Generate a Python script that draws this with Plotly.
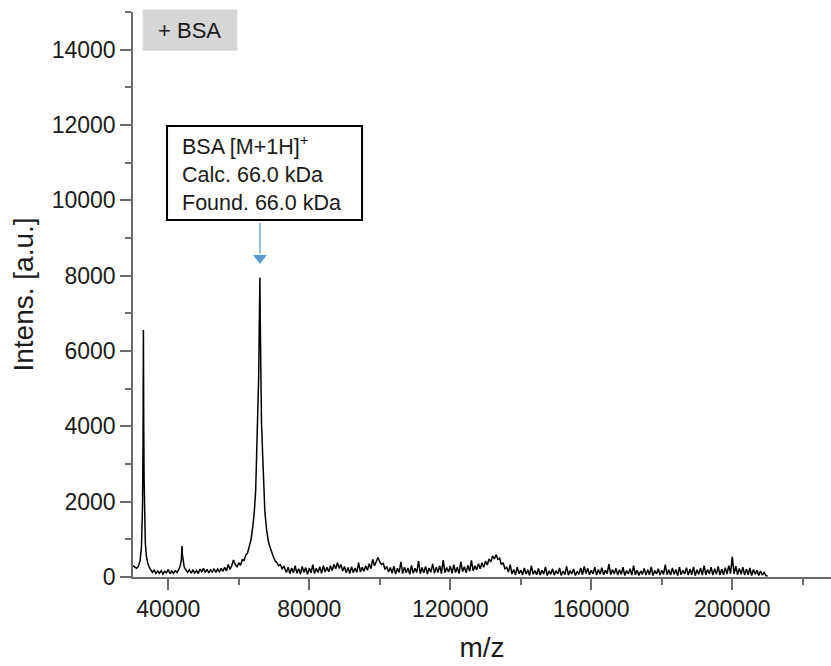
import plotly.graph_objects as go

# Linear MALDI-TOF spectrum of BSA: m/z (Da) and intensity (a.u.), in four stretches

# 30 - 57.5 kDa: [M+2H]2+ and [2M+3H]3+ region
mz_low = [30000, 30500, 31000, 31500, 32000, 32400, 32700, 32850, 32950, 33050,
          33150, 33300, 33500, 33800, 34200, 34700,
          35000, 35500, 36000, 36500, 37000, 37500, 38000, 38500, 39000, 39500,
          40000, 40500, 41000, 41500, 42000, 42500,
          43000, 43400, 43700, 43900, 44000, 44200, 44500, 44900,
          45500, 46000, 46500, 47000, 47500, 48000, 48500, 49000, 49500, 50000,
          50500, 51000, 51500, 52000, 52500, 53000, 53500, 54000, 54500, 55000,
          55500, 56000, 56500, 57000, 57500]
int_low = [300, 260, 230, 280, 420, 800, 1900, 3600, 6560, 4000,
           2600, 1500, 900, 550, 360, 240,
           200, 120, 180, 90, 160, 100, 170, 80, 150, 110,
           200, 90, 160, 100, 170, 120,
           200, 300, 450, 820, 600, 420, 280, 200,
           120, 190, 100, 180, 110, 170, 90, 210, 140, 230,
           120, 200, 110, 190, 130, 220, 120, 210, 140, 230,
           150, 260, 160, 330, 200]

# 58 - 73 kDa: [M+H]+
mz_main = [58000, 58500, 59000, 59500, 60000, 60500, 61000, 61500, 62000, 62500,
           63000, 63500, 64000, 64400, 64800, 65100, 65400, 65650, 65800, 65900,
           66000, 66100, 66250, 66450, 66800, 67100, 67400, 67900, 68400, 68900,
           69400, 69900, 70300, 70800, 71300, 71800, 72300, 72800]
int_main = [300, 450, 340, 260, 380, 310, 460, 440, 580, 640,
            820, 1000, 1350, 1720, 2300, 3250, 4300, 5300, 6500, 7200,
            7950, 6800, 5200, 4100, 3200, 2450, 1750, 1250, 950, 780,
            620, 520, 430, 380, 300, 330, 220, 280]

# 73.5 - 136.5 kDa: [3M+2H]2+ and [2M+H]+ humps
mz_mid = [73500, 74000, 74500, 75000, 75500, 76000, 76500, 77000, 77500, 78000,
          78500, 79000, 79500, 80000, 80500, 81000, 81500, 82000, 82500, 83000,
          83500, 84000, 84500, 85000, 85500, 86000, 86500, 87000, 87500, 88000,
          88500, 89000, 89500, 90000, 90500, 91000, 91500, 92000, 92500, 93000,
          93500, 94000, 94500, 95000, 95500, 96000, 96500, 97000, 97500, 98000,
          98500, 99000, 99500, 100000, 100500, 101000, 101500, 102000, 102500, 103000,
          103500, 104000, 104500, 105000, 105500, 106000, 106500, 107000, 107500, 108000,
          108500, 109000, 109500, 110000, 110500, 111000, 111500, 112000, 112500, 113000,
          113500, 114000, 114500, 115000, 115500, 116000, 116500, 117000, 117500, 118000,
          118500, 119000, 119500, 120000, 120500, 121000, 121500, 122000, 122500, 123000,
          123500, 124000, 124500, 125000, 125500, 126000, 126500, 127000, 127500, 128000,
          128500, 129000, 129500, 130000, 130500, 131000, 131500, 132000, 132500, 133000,
          133500, 134000, 134500, 135000, 135500, 136000, 136500]
int_mid = [120, 260, 90, 240, 110, 300, 100, 220, 80, 280,
           120, 250, 70, 240, 110, 330, 90, 230, 120, 270,
           100, 300, 130, 260, 140, 300, 170, 340, 220, 380,
           230, 330, 160, 280, 110, 250, 90, 270, 110, 240,
           120, 380, 130, 260, 150, 300, 180, 350, 220, 470,
           300, 430, 520, 400, 330, 360, 200, 280, 130, 250,
           100, 290, 80, 230, 120, 400, 90, 260, 110, 240,
           70, 310, 100, 230, 120, 420, 90, 250, 110, 280,
           80, 240, 130, 350, 100, 260, 120, 300, 90, 450,
           110, 250, 130, 290, 100, 330, 120, 260, 90, 400,
           140, 270, 110, 310, 150, 440, 160, 300, 190, 350,
           220, 380, 260, 420, 320, 480, 400, 560, 480, 600,
           470, 500, 330, 380, 220, 260, 130]

# 137 - 210 kDa: tail of the acquisition window
mz_high = [137000, 137500, 138000, 138500, 139000, 139500, 140000, 140500, 141000, 141500,
           142000, 142500, 143000, 143500, 144000, 144500, 145000, 145500, 146000, 146500,
           147000, 147500, 148000, 148500, 149000, 149500, 150000, 150500, 151000, 151500,
           152000, 152500, 153000, 153500, 154000, 154500, 155000, 155500, 156000, 156500,
           157000, 157500, 158000, 158500, 159000, 159500, 160000, 160500, 161000, 161500,
           162000, 162500, 163000, 163500, 164000, 164500, 165000, 165500, 166000, 166500,
           167000, 167500, 168000, 168500, 169000, 169500, 170000, 170500, 171000, 171500,
           172000, 172500, 173000, 173500, 174000, 174500, 175000, 175500, 176000, 176500,
           177000, 177500, 178000, 178500, 179000, 179500, 180000, 180500, 181000, 181500,
           182000, 182500, 183000, 183500, 184000, 184500, 185000, 185500, 186000, 186500,
           187000, 187500, 188000, 188500, 189000, 189500, 190000, 190500, 191000, 191500,
           192000, 192500, 193000, 193500, 194000, 194500, 195000, 195500, 196000, 196500,
           197000, 197500, 198000, 198500, 199000, 199500, 200000, 200500, 201000, 201500,
           202000, 202500, 203000, 203500, 204000, 204500, 205000, 205500, 206000, 206500,
           207000, 207500, 208000, 208500, 209000, 209500, 210000]
int_high = [330, 80, 200, 60, 260, 90, 180, 50, 240, 80,
            190, 40, 300, 70, 170, 60, 230, 50, 180, 80,
            270, 40, 160, 70, 220, 50, 170, 80, 240, 40,
            160, 60, 280, 50, 170, 80, 210, 40, 150, 70,
            240, 60, 280, 90, 230, 60, 180, 80, 260, 50,
            200, 70, 250, 60, 180, 90, 340, 60, 200, 80,
            230, 50, 190, 70, 260, 40, 170, 80, 220, 50,
            300, 60, 180, 40, 160, 70, 230, 50, 190, 60,
            270, 40, 170, 80, 220, 50, 180, 70, 330, 60,
            190, 50, 240, 70, 200, 40, 260, 60, 180, 80,
            250, 50, 210, 60, 270, 40, 190, 70, 240, 50,
            300, 60, 200, 80, 260, 50, 220, 70, 280, 50,
            210, 60, 250, 80, 300, 90, 540, 80, 290, 60,
            230, 70, 260, 50, 210, 60, 240, 40, 200, 70,
            180, 40, 160, 50, 120, 40, 20]

x_ticks = [40000, 80000, 120000, 160000, 200000]
y_ticks = [0, 2000, 4000, 6000, 8000, 10000, 12000, 14000]

mz = mz_low + mz_main + mz_mid + mz_high
intensity = int_low + int_main + int_mid + int_high

peak_intensity = max(intensity)
peak_mz = mz[intensity.index(peak_intensity)]

AXIS_GRAY = "#6b6b6b"
FONT = "Arial, 'Liberation Sans', sans-serif"

fig = go.Figure(
    go.Scatter(
        x=mz, y=intensity, mode="lines",
        line=dict(color="black", width=1.5),
        hoverinfo="skip",
    )
)

fig.update_layout(
    width=831, height=666,
    margin=dict(l=133, r=0, t=12, b=89),
    plot_bgcolor="white", paper_bgcolor="white",
    showlegend=False,
    font=dict(family=FONT, color="#1a1a1a"),
)

fig.update_xaxes(
    range=[30000, 228000],
    tickmode="array", tickvals=x_ticks, ticktext=[str(v) for v in x_ticks],
    ticks="outside", ticklen=11, tickwidth=1.5, tickcolor=AXIS_GRAY,
    minor=dict(ticks="outside", ticklen=6, tickwidth=1.5, tickcolor=AXIS_GRAY,
               tickmode="linear", tick0=0, dtick=20000),
    showline=True, linecolor=AXIS_GRAY, linewidth=1.5,
    showgrid=False, zeroline=False,
    tickfont=dict(size=23, family=FONT, color="#1a1a1a"),
    title=dict(text="m/z", font=dict(size=28, family=FONT, color="#1a1a1a"), standoff=16),
)

fig.update_yaxes(
    range=[0, 15000],
    tickmode="array", tickvals=y_ticks, ticktext=[str(v) for v in y_ticks],
    ticks="outside", ticklen=11, tickwidth=1.5, tickcolor=AXIS_GRAY,
    minor=dict(ticks="outside", ticklen=6, tickwidth=1.5, tickcolor=AXIS_GRAY,
               tickmode="linear", tick0=0, dtick=1000),
    showline=True, linecolor=AXIS_GRAY, linewidth=1.5,
    showgrid=False, zeroline=False,
    tickfont=dict(size=23, family=FONT, color="#1a1a1a"),
    title=dict(text="Intens. [a.u.]", font=dict(size=28, family=FONT, color="#1a1a1a"), standoff=10),
)

# sample tag in the upper-left corner
fig.add_shape(type="rect", xref="paper", yref="paper",
              x0=0.0139, x1=0.1494, y0=0.9315, y1=1.0044,
              line=dict(width=0), fillcolor="#d6d6d6", layer="above")
fig.add_annotation(xref="paper", yref="paper", x=0.0335, y=0.968,
                   xanchor="left", yanchor="middle", showarrow=False,
                   text="+ BSA", font=dict(size=22, family=FONT, color="#1a1a1a"))

# assignment box for the singly charged monomer
fig.add_shape(type="rect", xref="x", yref="y",
              x0=39650, x1=94970, y0=9480, y1=11975,
              line=dict(color="black", width=2), fillcolor="white", layer="above")
fig.add_annotation(xref="x", yref="y", x=43300, y=10730,
                   xanchor="left", yanchor="middle", showarrow=False, align="left",
                   text="BSA [M+1H]<sup>+</sup><br>Calc. 66.0 kDa<br>Found. 66.0 kDa",
                   font=dict(size=21.5, family=FONT, color="#1a1a1a"))

# arrow pointing down at the [M+H]+ peak: shaft plus a triangular head
fig.add_shape(type="line", xref="x", yref="y",
              x0=peak_mz, x1=peak_mz, y0=peak_intensity + 1450, y1=peak_intensity + 640,
              line=dict(color="#8fbbe6", width=2), layer="above")
fig.add_trace(go.Scatter(
    x=[peak_mz], y=[peak_intensity + 520], mode="markers",
    marker=dict(symbol="triangle-down", size=12, color="#5b9bd5", line=dict(width=0)),
    hoverinfo="skip",
))

fig.write_html("out.html")
